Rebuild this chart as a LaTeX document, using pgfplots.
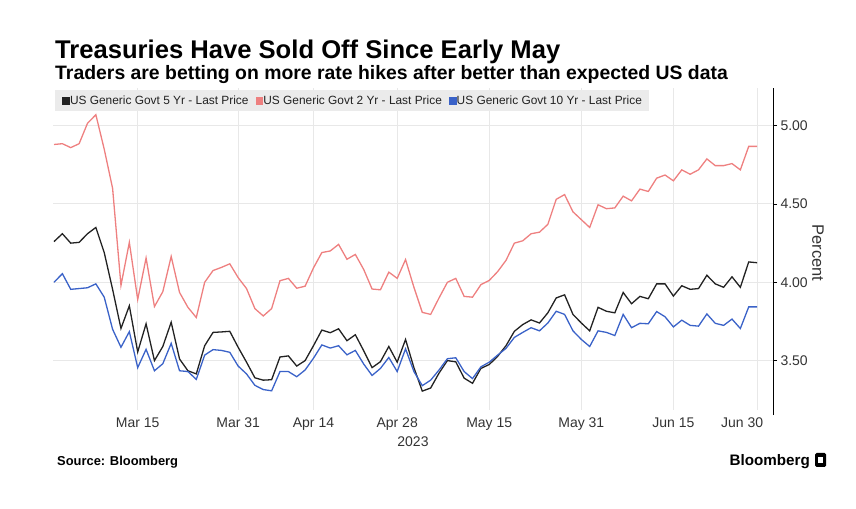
\documentclass[border=0pt]{standalone}
\usepackage{pgfplots}
\usepackage{pgfplotstable}
\pgfplotsset{compat=1.18}
\usepackage{fontspec}
\setmainfont{Liberation Sans}
\definecolor{c5y}{HTML}{222222}
\definecolor{c2y}{HTML}{EE8080}
\definecolor{c10y}{HTML}{3A62C8}
\definecolor{gridc}{HTML}{E8E8E8}
\definecolor{txt}{HTML}{333333}
\definecolor{legbg}{HTML}{EBEBEB}

\pgfplotstableread{
i y5 y2 y10
0 4.26 4.88 4.00
1 4.31 4.885 4.055
2 4.25 4.86 3.955
3 4.255 4.885 3.96
4 4.31 5.015 3.965
5 4.35 5.07 3.99
6 4.19 4.85 3.905
7 3.955 4.60 3.70
8 3.705 3.98 3.585
9 3.85 4.255 3.685
10 3.555 3.89 3.455
11 3.735 4.155 3.572
12 3.50 3.845 3.435
13 3.59 3.94 3.48
14 3.745 4.165 3.61
15 3.51 3.935 3.435
16 3.435 3.84 3.43
17 3.415 3.775 3.38
18 3.595 4.00 3.535
19 3.68 4.075 3.57
20 3.683 4.095 3.565
21 3.687 4.118 3.553
22 3.585 4.03 3.465
23 3.49 3.96 3.415
24 3.39 3.832 3.342
25 3.375 3.785 3.315
26 3.378 3.832 3.307
27 3.523 4.01 3.43
28 3.53 4.025 3.43
29 3.465 3.962 3.397
30 3.50 3.975 3.44
31 3.595 4.092 3.515
32 3.695 4.19 3.60
33 3.678 4.20 3.58
34 3.703 4.242 3.595
35 3.627 4.147 3.537
36 3.665 4.178 3.565
37 3.563 4.082 3.478
38 3.455 3.957 3.405
39 3.493 3.952 3.45
40 3.59 4.065 3.52
41 3.49 4.025 3.43
42 3.635 4.145 3.575
43 3.455 3.968 3.43
44 3.305 3.808 3.34
45 3.325 3.795 3.375
46 3.42 3.90 3.44
47 3.50 4.00 3.512
48 3.492 4.025 3.518
49 3.388 3.91 3.43
50 3.355 3.905 3.385
51 3.45 3.985 3.46
52 3.475 4.012 3.49
53 3.527 4.068 3.535
54 3.595 4.14 3.578
55 3.687 4.25 3.648
56 3.73 4.265 3.68
57 3.76 4.31 3.71
58 3.74 4.32 3.69
59 3.805 4.37 3.74
60 3.90 4.53 3.815
61 3.92 4.56 3.795
62 3.795 4.45 3.69
63 3.74 4.40 3.635
64 3.69 4.35 3.59
65 3.84 4.495 3.69
66 3.815 4.47 3.68
67 3.805 4.475 3.66
68 3.935 4.55 3.795
69 3.863 4.52 3.71
70 3.91 4.595 3.738
71 3.895 4.58 3.735
72 3.99 4.665 3.813
73 3.99 4.685 3.78
74 3.912 4.648 3.715
75 3.978 4.718 3.758
76 3.955 4.69 3.725
77 3.96 4.718 3.72
78 4.045 4.788 3.798
79 3.99 4.745 3.738
80 3.968 4.745 3.725
81 4.035 4.758 3.765
82 3.968 4.718 3.705
83 4.13 4.868 3.843
84 4.125 4.868 3.843
}\datatable

\begin{document}
\begin{tikzpicture}
\useasboundingbox (0bp,0bp) rectangle (856bp,509bp);
\node[anchor=base west, inner sep=0pt, font=\bfseries\fontsize{25.6bp}{30bp}\selectfont] at (55bp,450bp) {Treasuries Have Sold Off Since Early May};
\node[anchor=base west, inner sep=0pt, font=\bfseries\fontsize{19.4bp}{23bp}\selectfont] at (55bp,429bp) {Traders are betting on more rate hikes after better than expected US data};
\node[anchor=base west, inner sep=0pt, font=\bfseries\fontsize{12.9bp}{15bp}\selectfont] at (57bp,43bp) {Source: Bloomberg};
\node[anchor=base east, inner sep=0pt, font=\bfseries\fontsize{15.2bp}{18bp}\selectfont] at (810bp,43bp) {Bloomberg};
\fill[black, rounded corners=1.5bp] (815bp,42bp) rectangle (826bp,56bp);
\fill[white] (818bp,46bp) rectangle (823bp,52bp);
\node[rotate=-90, inner sep=0pt, text=txt, font=\fontsize{16.5bp}{19bp}\selectfont] at (818bp,256bp) {Percent};
\begin{axis}[
  at={(53bp,99bp)}, anchor=south west,
  scale only axis, width=720bp, height=322bp,
  xmin=-0.12, xmax=85.9, ymin=3.1845, ymax=5.2407,
  axis y line*=right, axis x line*=bottom,
  x axis line style={draw=none},
  y axis line style={draw=black, line width=0.9bp, shorten <=-5bp},
  xtick={10,22,31,41,52,63,74,84},
  xticklabels={Mar 15,Mar 31,Apr 14,Apr 28,May 15,May 31,Jun 15,\hspace*{-30bp}Jun 30},
  ytick={3.5,4,4.5,5},
  yticklabels={3.50,4.00,4.50,5.00},
  xmajorgrids, ymajorgrids,
  grid style={gridc, line width=1bp},
  xtick style={draw=none},
  ytick style={draw=black, line width=0.9bp},
  tick align=outside,
  major tick length=4bp,
  tick label style={font=\fontsize{14bp}{16bp}\selectfont, text=txt},
  xlabel={2023},
  xlabel style={font=\fontsize{14bp}{16bp}\selectfont, text=txt},
  legend columns=3,
  legend image code/.code={\fill[#1] (0bp,-3.5bp) rectangle (6.5bp,3.5bp);},
  legend style={at={(0.0028,0.9938)}, anchor=north west, fill=legbg, draw=none,
    inner xsep=7bp, inner ysep=5.5bp, text=c5y,
    font=\fontsize{11.9bp}{13bp}\selectfont, nodes={inner sep=0pt},
    column sep=0bp, /tikz/every even column/.append style={column sep=7bp}},
  legend cell align=left,
]
\addplot[color=c5y, line width=1.3bp] table[x=i, y=y5] {\datatable};
\addlegendentry{US Generic Govt 5 Yr - Last Price}
\addplot[color=c2y, line width=1.3bp] table[x=i, y=y2] {\datatable};
\addlegendentry{US Generic Govt 2 Yr - Last Price}
\addplot[color=c10y, line width=1.3bp] table[x=i, y=y10] {\datatable};
\addlegendentry{US Generic Govt 10 Yr - Last Price}
\end{axis}
\end{tikzpicture}
\end{document}
